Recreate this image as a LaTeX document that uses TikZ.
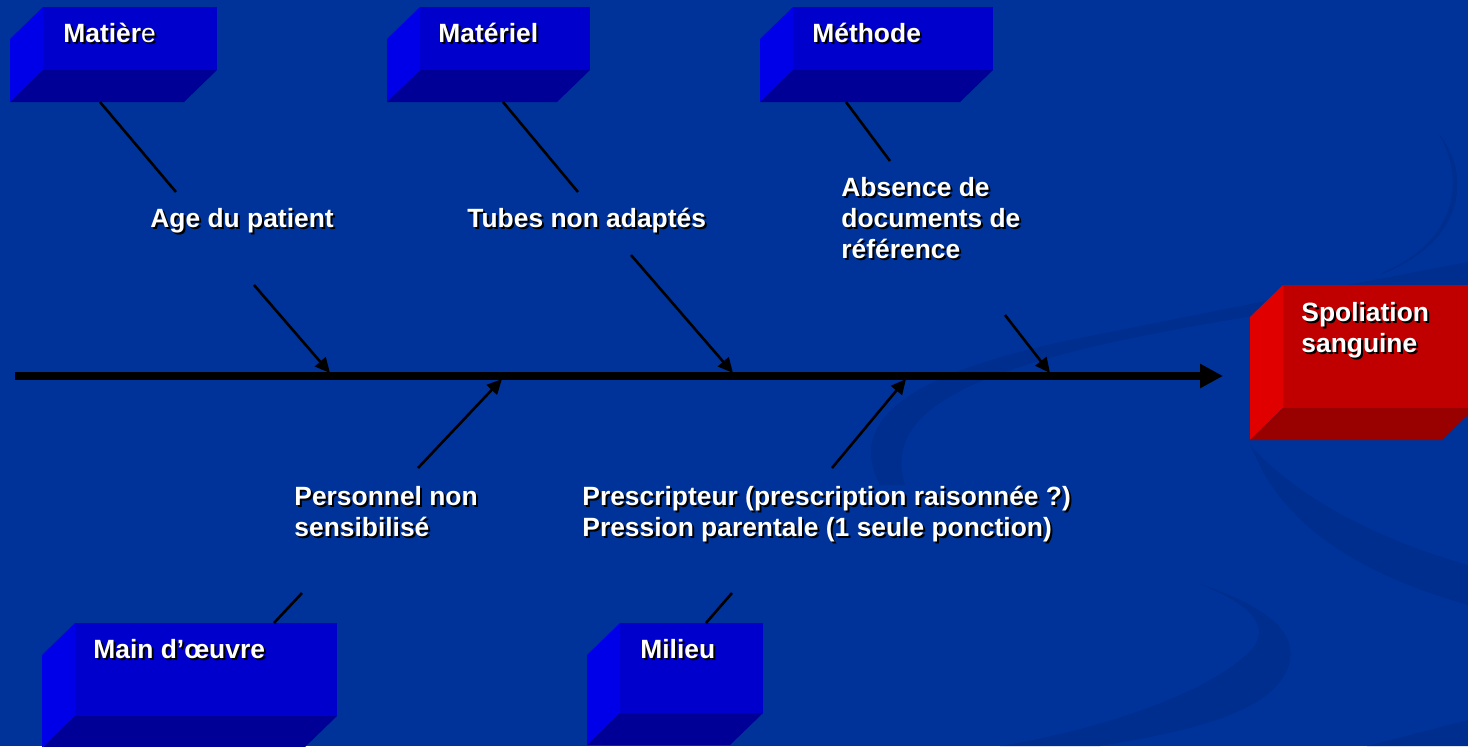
\documentclass[tikz,border=0pt]{standalone}
\usepackage{fontspec}
\setmainfont{Liberation Sans}
\usetikzlibrary{arrows.meta,calc}
\definecolor{bg}{RGB}{0,51,153}
\definecolor{swirl}{RGB}{0,46,142}
\definecolor{bluefront}{RGB}{0,0,204}
\definecolor{blueleft}{RGB}{0,0,232}
\definecolor{bluebottom}{RGB}{0,0,150}
\definecolor{redfront}{RGB}{192,0,0}
\definecolor{redleft}{RGB}{224,0,0}
\definecolor{redbottom}{RGB}{153,0,0}
\newcommand\labelfont{\fontsize{13.2}{15.5}\selectfont\bfseries}
\tikzset{
  lbl/.style={text=white, font=\labelfont, inner sep=0pt, anchor=base west, align=left},
  shd/.style={lbl, text=black},
  boxnode/.style={draw=none, inner sep=0pt, outer sep=0pt, anchor=north west},
  branch/.style={line width=1.3pt, draw=black},
  barrow/.style={branch, -{Triangle[length=7.5pt,width=7pt]}},
  spine/.style={line width=4pt, draw=black, -{Triangle[length=11.5pt,width=11.5pt]}},
}
\newcommand\mkbox[6]{%
  \node[boxnode, fill=#6front, minimum width=#4*0.5pt, minimum height=#5*0.5pt] (#1) at (#2,#3) {};
  \fill[#6left] (#1.north west) -- (#1.south west) -- ++(-33,32) -- ($(#1.north west)+(-33,32)$) -- cycle;
  \fill[#6bottom] (#1.south west) -- (#1.south east) -- ++(-33,32) -- ($(#1.south west)+(-33,32)$) -- cycle;
}
\newcommand\shlabel[3]{%
  \node[shd] (#1-shadow) at ($(#2)+(2,2)$) {#3};
  \node[lbl] (#1) at (#2) {#3};
}
\begin{document}
\begin{tikzpicture}[x=0.5pt,y=-0.5pt]
\useasboundingbox (0,0) rectangle (1468,746);
\begin{scope}
\clip (0,0) rectangle (1468,746);
\fill[bg] (0,0) rectangle (1468,746);
% background swirls
\fill[swirl] (880,485) .. controls (845,420) and (910,372) .. (1080,338)
  .. controls (1230,308) and (1360,282) .. (1468,262) -- (1468,285)
  .. controls (1360,300) and (1220,318) .. (1100,345)
  .. controls (950,380) and (885,420) .. (905,485) -- cycle;
\fill[swirl] (1250,445) .. controls (1300,500) and (1380,540) .. (1468,565)
  -- (1468,605) .. controls (1380,580) and (1300,540) .. (1262,470) -- cycle;
\fill[swirl] (1197,583) .. controls (1280,610) and (1300,640) .. (1287,670)
  .. controls (1270,710) and (1200,730) .. (1100,746) -- (1000,746)
  .. controls (1100,730) and (1220,690) .. (1255,645)
  .. controls (1270,620) and (1240,600) .. (1197,583) -- cycle;
\fill[swirl] (1367,746) -- (1468,720) -- (1468,746) -- cycle;
\fill[swirl] (1438,133) .. controls (1470,170) and (1470,240) .. (1380,275)
  -- (1384,272) .. controls (1461,238) and (1464,175) .. (1438,133) -- cycle;
% boxes
\mkbox{matiere}{43}{7}{174}{63}{blue}
\mkbox{materiel}{420}{7}{170}{63}{blue}
\mkbox{methode}{793}{7}{200}{63}{blue}
\mkbox{effet}{1283}{285}{192}{123}{red}
\mkbox{maindoeuvre}{75}{623}{262}{93}{blue}
\mkbox{milieu}{620}{623}{143}{90}{blue}
\end{scope}
% box labels (base = baseline of last line)
\shlabel{t-matiere}{63,42}{Matièr{\mdseries e}}
\shlabel{t-materiel}{438,42}{Matériel}
\shlabel{t-methode}{812,42}{Méthode}
\shlabel{t-effet}{1301,352}{Spoliation\\sanguine}
\shlabel{t-main}{93,658}{Main d’œuvre}
\shlabel{t-milieu}{640,658}{Milieu}
% cause labels
\shlabel{t-age}{150,227}{Age du patient}
\shlabel{t-tubes}{467,227}{Tubes non adaptés}
\shlabel{t-absence}{841,258}{Absence de\\documents de\\référence}
\shlabel{t-personnel}{294,536}{Personnel non\\sensibilisé}
\shlabel{t-prescr}{582,536}{Prescripteur (prescription raisonnée ?)\\Pression parentale (1 seule ponction)}
% connector coordinates
\coordinate (sp-start) at (15,376);
\coordinate (sp-end) at (1223,376);
\coordinate (c1a) at (100,102); \coordinate (c1b) at (176,192);
\coordinate (a1a) at (254,285); \coordinate (a1b) at (330,373);
\coordinate (c2a) at (503,102); \coordinate (c2b) at (578,192);
\coordinate (a2a) at (631,255); \coordinate (a2b) at (733,373);
\coordinate (c3a) at (846,102); \coordinate (c3b) at (890,161);
\coordinate (a3a) at (1005,315); \coordinate (a3b) at (1050,373);
\coordinate (a4a) at (418,468); \coordinate (a4b) at (502,379);
\coordinate (c4a) at (274,623); \coordinate (c4b) at (302,593);
\coordinate (a5a) at (832,468); \coordinate (a5b) at (906,379);
\coordinate (c5a) at (706,623); \coordinate (c5b) at (732,593);
% connectors
\draw[spine] (sp-start) -- (sp-end);
\draw[branch] (c1a) -- (c1b);
\draw[barrow] (a1a) -- (a1b);
\draw[branch] (c2a) -- (c2b);
\draw[barrow] (a2a) -- (a2b);
\draw[branch] (c3a) -- (c3b);
\draw[barrow] (a3a) -- (a3b);
\draw[barrow] (a4a) -- (a4b);
\draw[branch] (c4a) -- (c4b);
\draw[barrow] (a5a) -- (a5b);
\draw[branch] (c5a) -- (c5b);
\end{tikzpicture}
\end{document}
